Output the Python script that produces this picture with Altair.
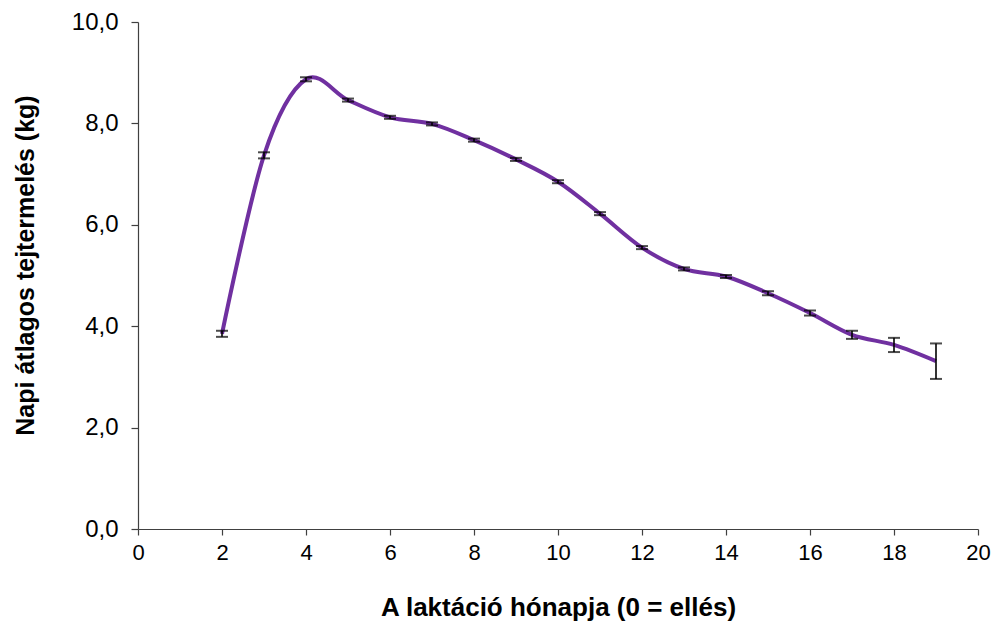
import altair as alt
import pandas as pd

# Lactation month and mean daily milk yield (kg) with standard error
months = [2, 3, 4, 5, 6, 7, 8, 9, 10, 11, 12, 13, 14, 15, 16, 17, 18, 19]
milk_mean = [3.85, 7.37, 8.87, 8.46, 8.12, 7.99, 7.67, 7.29, 6.85, 6.22,
             5.55, 5.13, 4.98, 4.65, 4.26, 3.83, 3.63, 3.31]
milk_se = [0.06, 0.06, 0.04, 0.03, 0.03, 0.03, 0.03, 0.03, 0.03, 0.03,
           0.03, 0.03, 0.03, 0.04, 0.05, 0.08, 0.14, 0.35]

df = pd.DataFrame({"month": months, "mean": milk_mean, "se": milk_se})
df["lo"] = df["mean"] - df["se"]
df["hi"] = df["mean"] + df["se"]

FONT = "Liberation Sans"
AXIS_COLOR = "#404040"

x_scale = alt.Scale(domain=[0, 20], nice=False)
y_scale = alt.Scale(domain=[0, 10], nice=False)

x_axis = alt.Axis(
    title="A laktáció hónapja (0 = ellés)",
    values=list(range(0, 21, 2)),
    grid=False, labelFlush=False, labelOverlap=False,
    domainColor=AXIS_COLOR, tickColor=AXIS_COLOR, domainWidth=1.2, tickWidth=1.2,
    tickSize=6, labelPadding=7,
    labelFont=FONT, labelFontSize=22, labelColor="#000000",
    titleFont=FONT, titleFontSize=26, titleFontWeight="bold", titleColor="#000000",
    titleX=420, titleY=78, titleBaseline="middle", titleAlign="center",
)
y_axis = alt.Axis(
    title="Napi átlagos tejtermelés (kg)",
    values=[0, 2, 4, 6, 8, 10],
    labelExpr="replace(format(datum.value, '.1f'), '.', ',')",
    grid=False, labelFlush=False, labelOverlap=False,
    domainColor=AXIS_COLOR, tickColor=AXIS_COLOR, domainWidth=1.2, tickWidth=1.2,
    tickSize=7, labelPadding=13,
    labelFont=FONT, labelFontSize=24, labelColor="#000000",
    titleFont=FONT, titleFontSize=25, titleFontWeight="bold", titleColor="#000000",
    titleAngle=-90, titleX=-113, titleY=243, titleAlign="center", titleBaseline="middle",
)

base = alt.Chart(df)

line = base.mark_line(
    interpolate="cardinal", color="#7030A0", strokeWidth=4
).encode(
    x=alt.X("month:Q", scale=x_scale, axis=x_axis),
    y=alt.Y("mean:Q", scale=y_scale, axis=y_axis),
)

bars = base.mark_rule(color="#000000", strokeWidth=1.6).encode(
    x="month:Q",
    y="lo:Q",
    y2="hi:Q",
)

cap_lo = base.mark_tick(color="#000000", size=12, thickness=2, orient="horizontal").encode(
    x="month:Q", y="lo:Q"
)
cap_hi = base.mark_tick(color="#000000", size=12, thickness=2, orient="horizontal").encode(
    x="month:Q", y="hi:Q"
)

chart = (
    alt.layer(line, bars, cap_lo, cap_hi)
    .properties(
        width=840,
        height=507,
        padding={"left": 138, "top": 22, "right": 17, "bottom": 92},
        autosize=alt.AutoSizeParams(type="none"),
        background="#ffffff",
    )
    .configure_view(stroke=None)
)

chart.save("out.html", embed_options={"renderer": "svg", "actions": False})
